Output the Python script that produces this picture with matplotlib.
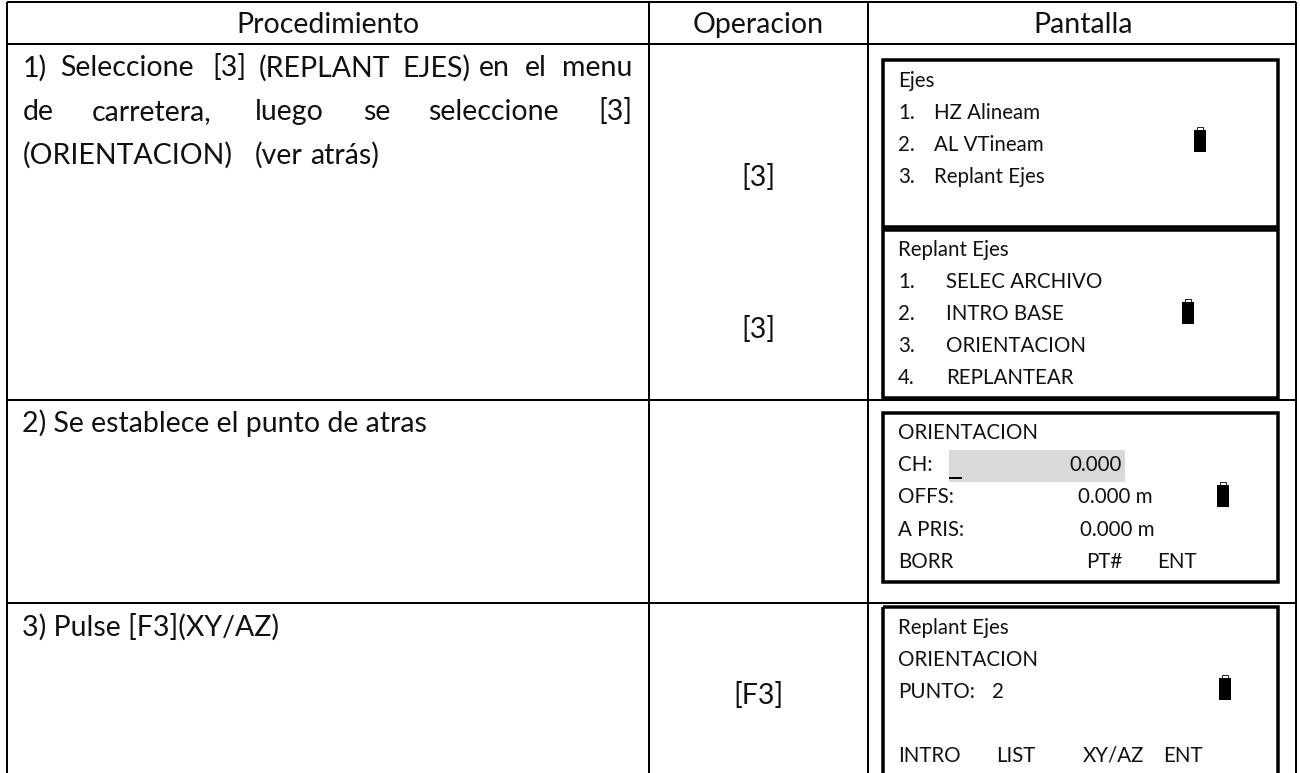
import matplotlib
matplotlib.use("Agg")
import matplotlib.pyplot as plt
from matplotlib.patches import Rectangle

plt.rcParams['font.family'] = ['Lato', 'DejaVu Sans']

# ---- content ----
headers = ["Procedimiento", "Operacion", "Pantalla"]
proc_words = ["1)", "Seleccione", "[3]", "(REPLANT", "EJES)", "en", "el", "menu",
              "de", "carretera,", "luego", "se", "seleccione", "[3]",
              "(ORIENTACION)", "(ver", "atrás)"]
proc_lines = ["2) Se establece el punto de atras", "3) Pulse [F3](XY/AZ)"]
op_keys = ["[3]", "[3]", "[F3]"]
screen_text = ["Ejes", "1.", "HZ Alineam", "2.", "AL VTineam", "3.", "Replant Ejes",
               "Replant Ejes", "1.", "SELEC ARCHIVO", "2.", "INTRO BASE", "3.", "ORIENTACION",
               "4.", "REPLANTEAR",
               "ORIENTACION", "CH:", "0.000", "OFFS:", "0.000 m", "A PRIS:", "0.000 m",
               "BORR", "PT#", "ENT",
               "Replant Ejes", "ORIENTACION", "PUNTO:", "2", "INTRO", "LIST", "XY/AZ", "ENT"]

# ---- layout (pixels) ----
W, H = 1300, 773
col_x = [7, 649, 868, 1296]
row_y = [2, 44, 400, 603]
header_x = [328, 758, 1083]
proc_word_x = [23, 60, 212, 259, 402, 479, 525, 562,
               23, 92, 255, 363, 428, 598,
               23, 255, 310]
proc_word_y = [68]*8 + [112]*6 + [155]*3
proc_line_y = [423, 627]
op_y = [178, 330, 696]
scr_x = [898, 898, 934, 898, 934, 898, 934,
         898, 898, 946, 898, 946, 898, 946, 898, 946,
         898, 898, 1069, 898, 1078, 898, 1080, 898, 1086, 1157,
         898, 898, 898, 992, 898, 996, 1083, 1163]
scr_y = [81, 113, 113, 145, 145, 177, 177,
         250, 282, 282, 314, 314, 346, 346, 378, 378,
         433, 465, 465, 497, 497, 530, 530, 562, 562, 562,
         628, 660, 692, 692, 756, 756, 756, 756]
boxes = [(883, 60, 1278, 227), (883, 230, 1278, 398), (883, 413, 1278, 582), (883, 607, 1278, 790)]
batteries = [(1194, 130), (1182, 302), (1217, 485), (1219, 678)]

fig = plt.figure(figsize=(W/100, H/100), dpi=100, facecolor='white')
ax = fig.add_axes([0, 0, 1, 1])
ax.set_xlim(0, W); ax.set_ylim(H, 0); ax.axis('off')

lw_px = lambda p: p*72/100

for x in col_x:
    ax.plot([x, x], [row_y[0], H], color='black', lw=lw_px(2), solid_capstyle='butt')
for y in row_y:
    ax.plot([col_x[0], col_x[-1]], [y, y], color='black', lw=lw_px(2), solid_capstyle='butt')

BIG, SMALL = 20.5, 14.8
kw = dict(color='#111111', va='center')
for t, x in zip(headers, header_x):
    ax.text(x, 25, t, fontsize=BIG, ha='center', **kw)
for t, x, y in zip(proc_words, proc_word_x, proc_word_y):
    ax.text(x, y, t, fontsize=BIG, ha='left', **kw)
for t, y in zip(proc_lines, proc_line_y):
    ax.text(col_x[0]+15, y, t, fontsize=BIG, ha='left', **kw)
for t, y in zip(op_keys, op_y):
    ax.text(758, y, t, fontsize=BIG, ha='center', **kw)

ax.add_patch(Rectangle((949, 450), 176, 32, fc='#d9d9d9', ec='none', zorder=0))
ax.plot([949, 962], [478, 478], color='black', lw=lw_px(2), solid_capstyle='butt')

for x0, y0, x1, y1 in boxes:
    ax.add_patch(Rectangle((x0, y0), x1-x0, y1-y0, fill=False, ec='black', lw=lw_px(3.5)))

for t, x, y in zip(screen_text, scr_x, scr_y):
    ax.text(x, y, t, fontsize=SMALL, ha='left', **kw)

for x, y in batteries:
    ax.add_patch(Rectangle((x, y), 12, 22, fc='black', ec='none'))
    ax.add_patch(Rectangle((x+3, y-3), 6, 3, fc='none', ec='black', lw=0.6))

fig.savefig('out.png', dpi=100)
